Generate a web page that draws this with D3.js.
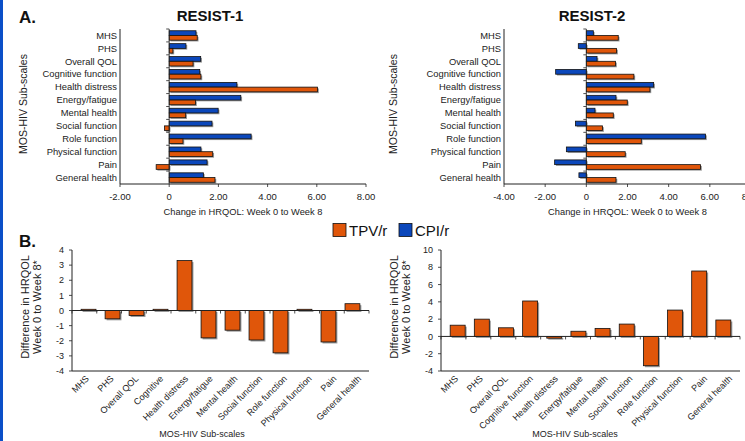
<!DOCTYPE html>
<html><head><meta charset="utf-8">
<script src="https://cdn.jsdelivr.net/npm/d3@7"></script>
<style>
html,body{margin:0;padding:0;background:#fff;overflow:hidden;}
svg{display:block;font-family:"Liberation Sans",Arial,sans-serif;}
</style></head>
<body>
<svg id="c" width="745" height="441"></svg>
<script>
const categoriesTop = ["MHS","PHS","Overall QOL","Cognitive function","Health distress","Energy/fatigue","Mental health","Social function","Role function","Physical function","Pain","General health"];
const r1CPI = [1.09,0.68,1.28,1.24,2.75,2.91,1.99,1.74,3.33,1.29,1.54,1.39];
const r1TPV = [1.14,0.15,0.97,1.29,6.03,1.07,0.67,-0.19,0.56,1.77,-0.53,1.86];
const r2CPI = [0.34,-0.39,0.52,-1.49,3.27,1.44,0.42,-0.53,5.79,-0.97,-1.54,-0.36];
const r2TPV = [1.55,1.47,1.42,2.31,3.09,1.99,1.31,0.79,2.67,1.89,5.55,1.44];
const r1Ticks = [-2,0,2,4,6,8];
const r2Ticks = [-4,-2,0,2,4,6,8];
const bLeftLabels = ["MHS","PHS","Overall QOL","Cognitive","Health distress","Energy/fatigue","Mental health","Social function","Role function","Physical function","Pain","General health"];
const bRightLabels = ["MHS","PHS","Overall QOL","Cognitive function","Health distress","Energy/fatigue","Mental health","Social function","Role function","Physical function","Pain","General health"];
const diff1 = [0.08,-0.55,-0.33,0.08,3.3,-1.81,-1.3,-1.95,-2.8,0.08,-2.08,0.45];
const diff2 = [1.3,2.0,1.0,4.1,-0.2,0.6,0.93,1.43,-3.39,3.05,7.57,1.9];
const diff1Ticks = [-4,-3,-2,-1,0,1,2,3,4];
const diff2Ticks = [-4,-2,0,2,4,6,8,10];
const seriesNames = ["TPV/r","CPI/r"];

const ORANGE = "#e0560a", BLUE = "#0b47bb", SHADOW = "#9a9a9a", TXT = "#222";
const svg = d3.select("#c");

svg.append("rect").attr("x",0).attr("y",0).attr("width",3).attr("height",441).attr("fill","#0a4fc8");

svg.append("text").attr("x",19).attr("y",23).attr("font-size",17).attr("font-weight","bold").attr("fill","#111").text("A.");
svg.append("text").attr("x",19).attr("y",247).attr("font-size",17).attr("font-weight","bold").attr("fill","#111").text("B.");

function fmt(v){ return v===0 ? "0" : v.toFixed(2); }

function topChart(o){
  const g = svg.append("g");
  const x = d3.scaleLinear().domain(o.domain).range([o.x0, o.x1]);
  const y = d3.scaleBand().domain(categoriesTop).range([29, 184]);
  const sub = d3.scaleBand().domain(["CPI","TPV"]).range([0, y.bandwidth()]).paddingOuter(0.37);
  g.append("text").attr("x",o.tx).attr("y",21).attr("text-anchor","middle").attr("font-size",15).attr("font-weight","bold").attr("fill","#111").text(o.title);
  g.selectAll("text.cat").data(categoriesTop).join("text").attr("class","cat")
    .attr("x",o.x0-3).attr("y",d=>y(d)+y.bandwidth()/2).attr("dy","0.35em")
    .attr("text-anchor","end").attr("font-size",9.4).attr("fill",TXT).text(d=>d);
  g.append("text").attr("transform",`translate(${o.yt},104) rotate(-90)`).attr("text-anchor","middle")
    .attr("font-size",10.5).attr("fill",TXT).text("MOS-HIV Sub-scales");
  const rows = [];
  categoriesTop.forEach((c,i)=>{ rows.push({c,s:"CPI",v:o.cpi[i]}); rows.push({c,s:"TPV",v:o.tpv[i]}); });
  const bx = d=>x(Math.min(0,d.v)), bw = d=>Math.abs(x(d.v)-x(0));
  g.selectAll("rect.sh").data(rows).join("rect").attr("class","sh")
    .attr("x",d=>bx(d)+1.3).attr("y",d=>y(d.c)+sub(d.s)+1.3).attr("width",bw).attr("height",sub.bandwidth())
    .attr("fill",SHADOW);
  g.selectAll("rect.bar").data(rows).join("rect").attr("class","bar")
    .attr("x",bx).attr("y",d=>y(d.c)+sub(d.s)).attr("width",bw).attr("height",sub.bandwidth())
    .attr("fill",d=>d.s==="CPI"?BLUE:ORANGE).attr("stroke","#111").attr("stroke-width",0.8);
  g.append("line").attr("x1",x(0)).attr("x2",x(0)).attr("y1",29).attr("y2",184).attr("stroke","#222").attr("stroke-width",0.8);
  g.selectAll("line.zt").data(categoriesTop).join("line").attr("class","zt")
    .attr("x1",x(0)-3).attr("x2",x(0)).attr("y1",d=>y(d)).attr("y2",d=>y(d)).attr("stroke","#222").attr("stroke-width",0.8);
  g.append("line").attr("x1",o.x0).attr("x2",o.x0).attr("y1",29).attr("y2",184).attr("stroke","#222").attr("stroke-width",1);
  g.append("line").attr("x1",o.x0).attr("x2",o.x1).attr("y1",184).attr("y2",184).attr("stroke","#222").attr("stroke-width",1);
  g.selectAll("line.xt").data(o.ticks).join("line").attr("class","xt")
    .attr("x1",d=>x(d)).attr("x2",d=>x(d)).attr("y1",184).attr("y2",187).attr("stroke","#222").attr("stroke-width",0.8);
  g.selectAll("text.xtl").data(o.ticks).join("text").attr("class","xtl")
    .attr("x",d=>x(d)).attr("y",200).attr("text-anchor","middle").attr("font-size",9.5).attr("fill",TXT).text(fmt);
  g.append("text").attr("x",(o.x0+o.x1)/2).attr("y",215).attr("text-anchor","middle").attr("font-size",9.3).attr("fill",TXT)
    .text("Change in HRQOL: Week 0 to Week 8");
}

topChart({domain:[-2,8], x0:120, x1:366, cpi:r1CPI, tpv:r1TPV, ticks:r1Ticks, title:"RESIST-1", tx:210, yt:27});
topChart({domain:[-4,8], x0:504, x1:751, cpi:r2CPI, tpv:r2TPV, ticks:r2Ticks, title:"RESIST-2", tx:592, yt:397});

const leg = svg.append("g");
const legX = [333, 399];
seriesNames.forEach((n,i)=>{
  leg.append("rect").attr("x",legX[i]).attr("y",223.5).attr("width",13).attr("height",13)
    .attr("fill",i===0?ORANGE:BLUE).attr("stroke","#111").attr("stroke-width",0.8);
  leg.append("text").attr("x",legX[i]+16).attr("y",235.5).attr("font-size",15).attr("fill","#111").text(n);
});

function bottomChart(o){
  const g = svg.append("g");
  const y = d3.scaleLinear().domain(o.domain).range([371, 250]);
  const x = d3.scaleBand().domain(d3.range(o.vals.length)).range([o.x0, o.x1]).padding(0.38);
  const xb = d3.scaleBand().domain(d3.range(o.vals.length)).range([o.x0, o.x1]);
  const bars = o.vals.map((v,i)=>({i,v}));
  g.selectAll("rect.sh").data(bars).join("rect").attr("class","sh")
    .attr("x",d=>x(d.i)+1.5).attr("y",d=>y(Math.max(0,d.v))+1.5).attr("width",x.bandwidth())
    .attr("height",d=>Math.abs(y(d.v)-y(0))).attr("fill",SHADOW);
  g.selectAll("rect.bar").data(bars).join("rect").attr("class","bar")
    .attr("x",d=>x(d.i)).attr("y",d=>y(Math.max(0,d.v))).attr("width",x.bandwidth())
    .attr("height",d=>Math.abs(y(d.v)-y(0))).attr("fill",ORANGE).attr("stroke","#111").attr("stroke-width",0.8);
  g.append("line").attr("x1",o.x0).attr("x2",o.x0).attr("y1",250).attr("y2",371).attr("stroke","#222").attr("stroke-width",1);
  g.selectAll("line.yt").data(o.ticks).join("line").attr("class","yt")
    .attr("x1",o.x0-3).attr("x2",o.x0).attr("y1",d=>y(d)).attr("y2",d=>y(d)).attr("stroke","#222").attr("stroke-width",0.8);
  g.selectAll("text.ytl").data(o.ticks).join("text").attr("class","ytl")
    .attr("x",o.x0-8).attr("y",d=>y(d)).attr("dy","0.35em").attr("text-anchor","end").attr("font-size",9).attr("fill",TXT).text(d=>d);
  g.append("line").attr("x1",o.x0).attr("x2",o.x1).attr("y1",y(0)).attr("y2",y(0)).attr("stroke","#222").attr("stroke-width",1);
  g.selectAll("line.xt").data(d3.range(o.vals.length+1)).join("line").attr("class","xt")
    .attr("x1",d=>o.x0+d*xb.step()).attr("x2",d=>o.x0+d*xb.step()).attr("y1",y(0)).attr("y2",y(0)+3).attr("stroke","#222").attr("stroke-width",0.8);
  g.append("line").attr("x1",o.x0).attr("x2",o.x1).attr("y1",371).attr("y2",371).attr("stroke","#222").attr("stroke-width",1);
  g.selectAll("text.cl").data(o.labels).join("text").attr("class","cl")
    .attr("transform",(d,i)=>`translate(${xb(i)+xb.bandwidth()/2+3},${377}) rotate(-45)`)
    .attr("text-anchor","end").attr("dy","0.35em").attr("font-size",9).attr("fill",TXT).text(d=>d);
  g.append("text").attr("x",o.xt).attr("y",437).attr("text-anchor","middle").attr("font-size",9).attr("fill",TXT).text("MOS-HIV Sub-scales");
  const yt = g.append("text").attr("transform",`translate(${o.ytx},307) rotate(-90)`).attr("text-anchor","middle").attr("font-size",11).attr("fill",TXT);
  yt.append("tspan").attr("x",0).attr("dy",0).text("Difference in HRQOL");
  yt.append("tspan").attr("x",0).attr("dy",11.5).text("Week 0 to Week 8*");
}

bottomChart({domain:[-4,4], x0:72, x1:369, vals:diff1, ticks:diff1Ticks, labels:bLeftLabels, xt:202, ytx:29});
bottomChart({domain:[-4,10], x0:441, x1:740, vals:diff2, ticks:diff2Ticks, labels:bRightLabels, xt:575, ytx:398});
</script>
</body></html>
